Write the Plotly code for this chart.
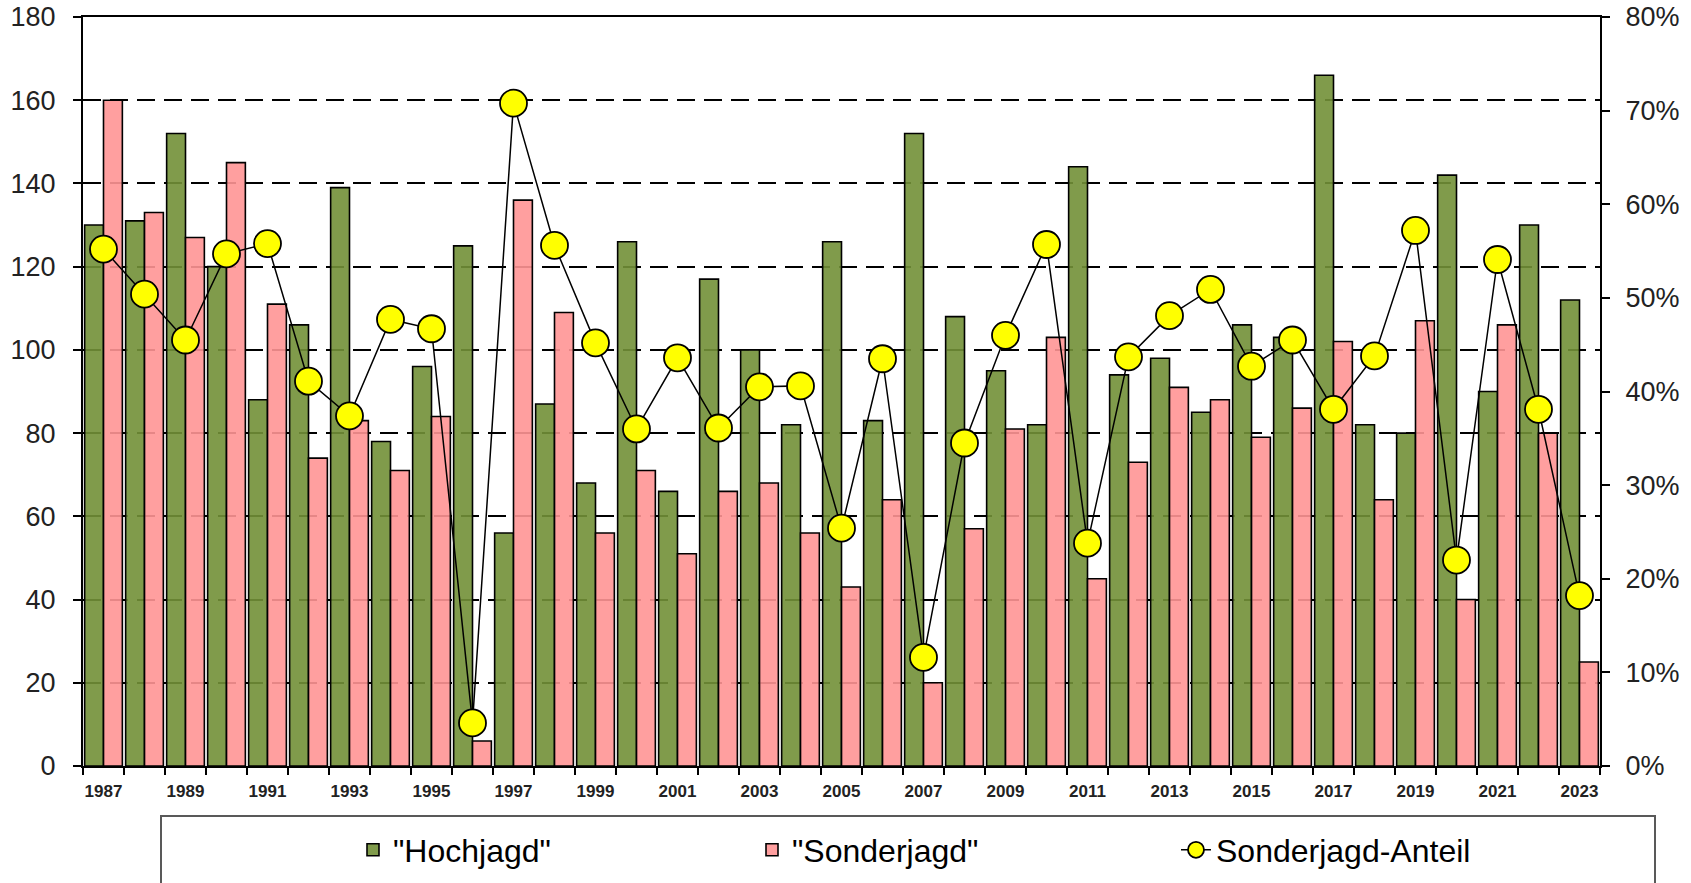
import plotly.graph_objects as go

# Jagdstrecke pro Jahr
years = list(range(1987, 2024))
hochjagd = [130, 131, 152, 120, 88, 106, 139, 78, 96, 125,
            56, 87, 68, 126, 66, 117, 100, 82, 126, 83,
            152, 108, 95, 82, 144, 94, 98, 85, 106, 103,
            166, 82, 80, 142, 90, 130, 112]
sonderjagd = [160, 133, 127, 145, 111, 74, 83, 71, 84, 6,
              136, 109, 56, 71, 51, 66, 68, 56, 43, 64,
              20, 57, 81, 103, 45, 73, 91, 88, 79, 86,
              102, 64, 107, 40, 106, 80, 25]
# Anteil der Sonderjagd an der Gesamtstrecke
anteil = [0.552, 0.504, 0.455, 0.547, 0.558, 0.411, 0.374, 0.477, 0.467, 0.046,
          0.708, 0.556, 0.452, 0.360, 0.436, 0.361, 0.405, 0.406, 0.254, 0.435,
          0.116, 0.345, 0.460, 0.557, 0.238, 0.437, 0.481, 0.509, 0.427, 0.455,
          0.381, 0.438, 0.572, 0.220, 0.541, 0.381, 0.182]
tick_years = years[::2]

FONT = "Arial, 'Liberation Sans', sans-serif"

fig = go.Figure()
fig.add_trace(go.Bar(
    x=years, y=hochjagd, name='"Hochjagd"',
    marker=dict(color="rgba(114,144,55,0.9)", line=dict(color="black", width=1.6)),
    legend="legend", showlegend=True,
))
fig.add_trace(go.Bar(
    x=years, y=sonderjagd, name='"Sonderjagd"',
    marker=dict(color="rgba(255,149,149,0.9)", line=dict(color="black", width=1.6)),
    legend="legend2", showlegend=True,
))
fig.add_trace(go.Scatter(
    x=years, y=anteil, name="Sonderjagd-Anteil", yaxis="y2",
    mode="lines+markers",
    line=dict(color="black", width=1.5),
    marker=dict(size=27, color="#ffff00", line=dict(color="black", width=1.8)),
    legend="legend3", showlegend=True,
))

W, H = 1691, 883
L, R, T, B = 83, 91, 17, 117
pw, ph = W - L - R, H - T - B


def px(xp):
    return (xp - L) / pw


def py(yp):
    return (H - B - yp) / ph


def cx(xp):
    return xp / W


def cy(yp):
    return 1 - yp / H


legend_common = dict(
    orientation="h", yanchor="middle", xanchor="left",
    xref="container", yref="container",
    bgcolor="rgba(0,0,0,0)", borderwidth=0,
    font=dict(family=FONT, size=32, color="black"),
)

fig.update_layout(
    width=W, height=H,
    showlegend=True,
    margin=dict(l=L, r=R, t=T, b=B, pad=0, autoexpand=False),
    paper_bgcolor="white", plot_bgcolor="white",
    font=dict(family=FONT, color="black"),
    barmode="group", bargap=0.08, bargroupgap=0,
    xaxis=dict(
        range=[1986.5, 2023.5],
        tickmode="array", tickvals=tick_years,
        ticktext=[str(y) for y in tick_years],
        ticks="", showgrid=False, zeroline=False,
        tickfont=dict(family=FONT, size=17, weight="bold", color="#222"),
        ticklabelstandoff=9,
        showline=True, linecolor="black", linewidth=2, mirror=True,
        minor=dict(dtick=1, tick0=0.5, ticks="outside", ticklen=7,
                   tickcolor="black", tickwidth=1.5, showgrid=False),
    ),
    yaxis=dict(
        range=[0, 180], dtick=20,
        showgrid=True, gridcolor="black", gridwidth=2, griddash="18px,9px",
        zeroline=False,
        showline=True, linecolor="black", linewidth=2,
        ticks="outside", ticklen=8, tickcolor="black", tickwidth=1.5,
        tickfont=dict(family=FONT, size=27, color="#222"),
        ticklabelstandoff=12,
    ),
    yaxis2=dict(
        range=[0, 0.8], dtick=0.1, tickformat=".0%",
        overlaying="y", side="right",
        showgrid=False, zeroline=False,
        showline=True, linecolor="black", linewidth=2,
        ticks="outside", ticklen=8, tickcolor="black", tickwidth=1.5,
        tickfont=dict(family=FONT, size=27, color="#222"),
        ticklabelstandoff=10,
    ),
    legend=dict(x=cx(353), y=cy(850), **legend_common),
    legend2=dict(x=cx(752), y=cy(850), **legend_common),
    legend3=dict(x=cx(1176), y=cy(850), **legend_common),
    shapes=[dict(
        type="rect", xref="paper", yref="paper",
        x0=px(161), x1=px(1655), y0=py(910), y1=py(816),
        line=dict(color="#595959", width=2), fillcolor="rgba(0,0,0,0)",
        layer="below",
    )],
)

fig.write_html("out.html")
